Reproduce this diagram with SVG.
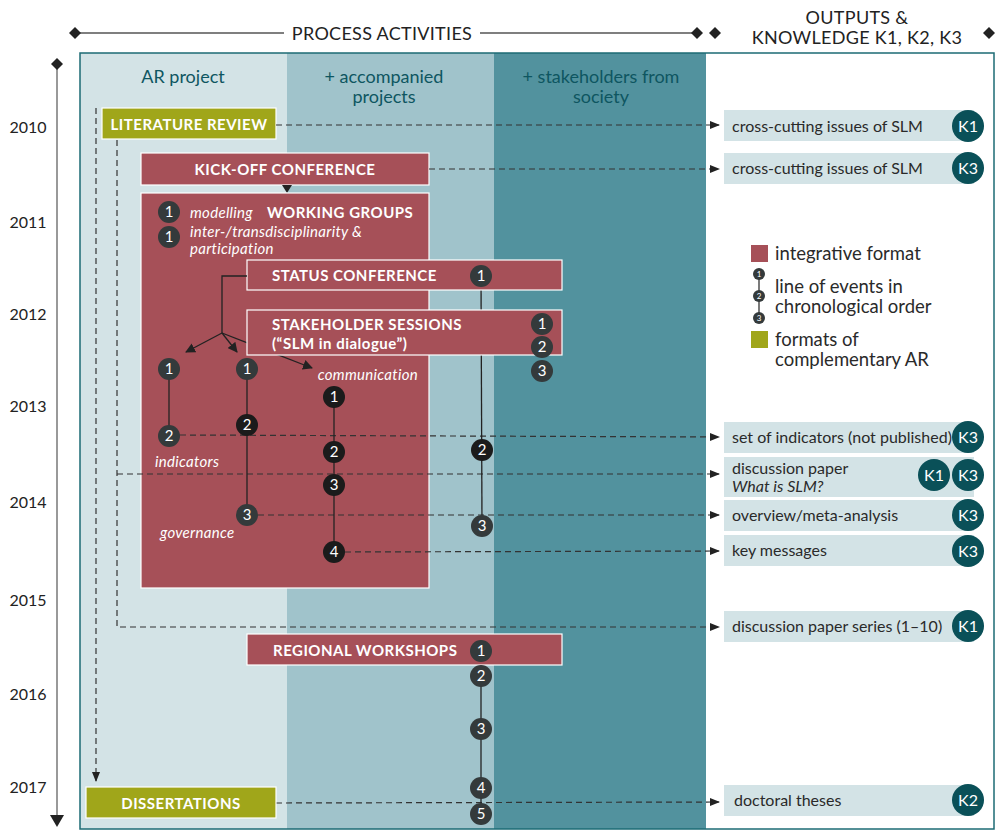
<svg xmlns="http://www.w3.org/2000/svg" width="997" height="832" viewBox="0 0 997 832">
<defs>
<style>
text{font-family:Lato,"Open Sans","DejaVu Sans",sans-serif;}
.hdr{font-size:18px;fill:#222;letter-spacing:0.3px}
.yr{font-size:16px;fill:#222;text-anchor:middle}
.col{font-size:18px;fill:#0e5661;text-anchor:middle}
.ttl{font-size:15px;font-weight:bold;fill:#fff;letter-spacing:0.5px}
.it{font-size:15px;font-style:italic;fill:#fff;letter-spacing:0.3px}
.out{font-size:16px;fill:#2a2a2a}
.leg{font-size:18.5px;fill:#2a2a2a}
.num{font-size:15px;fill:#fff;text-anchor:middle}
.knum{font-size:16px;fill:#fff;text-anchor:middle}
.maroon{fill:#a65058;stroke:#fff;stroke-width:1.2}
.green{fill:#a0a61a;stroke:#fff;stroke-width:1.2}
.obox{fill:#d3e3e6}
.k{fill:#0a5058}
.cg{fill:#343a3b}
.cb{fill:#1b1b1b}
.dash{fill:none;stroke:#333;stroke-width:1.2;stroke-dasharray:6 4}
.solid{fill:none;stroke:#222;stroke-width:1.3}
.rule{fill:none;stroke:#555;stroke-width:1.3}
</style>
<marker id="arr" markerWidth="10" markerHeight="10" refX="9" refY="5" orient="auto" markerUnits="userSpaceOnUse">
<path d="M0,0 L10,5 L0,10 z" fill="#222"/>
</marker>
<marker id="arrs" markerWidth="10" markerHeight="10" refX="9" refY="5" orient="auto" markerUnits="userSpaceOnUse">
<path d="M0,1 L10,5 L0,9 z" fill="#222"/>
</marker>
</defs>
<rect width="997" height="832" fill="#fff"/>

<g id="header">
<line class="rule" x1="75" y1="33" x2="284" y2="33"/>
<line class="rule" x1="480" y1="33" x2="697" y2="33"/>
<path d="M75,27 L81,33 L75,39 L69,33 z" fill="#222"/>
<path d="M697,27 L703,33 L697,39 L691,33 z" fill="#222"/>
<path d="M715,27 L721,33 L715,39 L709,33 z" fill="#222"/>
<path d="M989,27 L995,33 L989,39 L983,33 z" fill="#222"/>
<text class="hdr" x="382" y="40" text-anchor="middle">PROCESS ACTIVITIES</text>
<text class="hdr" x="857" y="24" text-anchor="middle">OUTPUTS &amp;</text>
<text class="hdr" x="857" y="44" text-anchor="middle">KNOWLEDGE K1, K2, K3</text>
</g>

<g id="timeline">
<line x1="57" y1="64" x2="57" y2="815" stroke="#777" stroke-width="1.5"/>
<path d="M57,58 L63,64 L57,70 L51,64 z" fill="#222"/>
<path d="M50,815 L64,815 L57,827 z" fill="#222"/>
<text class="yr" x="28" y="133">2010</text>
<text class="yr" x="28" y="228">2011</text>
<text class="yr" x="28" y="320">2012</text>
<text class="yr" x="28" y="412">2013</text>
<text class="yr" x="28" y="508">2014</text>
<text class="yr" x="28" y="606">2015</text>
<text class="yr" x="28" y="700">2016</text>
<text class="yr" x="28" y="793">2017</text>
</g>

<g id="columns">
<rect x="80" y="53" width="207" height="776" fill="#d3e3e6"/>
<rect x="287" y="53" width="207" height="776" fill="#a0c3cb"/>
<rect x="494" y="53" width="212" height="776" fill="#52929e"/>
<rect x="706" y="53" width="288" height="776" fill="#fff"/>
<rect x="80" y="53" width="914" height="776" fill="none" stroke="#1c6b74" stroke-width="1.5"/>
<text class="col" x="183" y="83">AR project</text>
<text class="col" x="384" y="83">+ accompanied</text>
<text class="col" x="384" y="103">projects</text>
<text class="col" x="601" y="83">+ stakeholders from</text>
<text class="col" x="601" y="103">society</text>
</g>

<g id="literature-review">
<rect class="green" x="102" y="108" width="174" height="31"/>
<text class="ttl" x="189" y="130" text-anchor="middle">LITERATURE REVIEW</text>
</g>

<g id="kick-off-conference">
<rect class="maroon" x="141" y="153" width="288" height="32"/>
<text class="ttl" x="285" y="175" text-anchor="middle">KICK-OFF CONFERENCE</text>
<path d="M282,185 L292,185 L287,193 z" fill="#222"/>
</g>

<g id="working-groups">
<rect class="maroon" x="141" y="193" width="288" height="395"/>
<text class="ttl" x="267" y="218">WORKING GROUPS</text>
<circle class="cg" cx="169" cy="212" r="11"/><text class="num" x="169" y="217">1</text>
<text class="it" x="190" y="218">modelling</text>
<circle class="cg" cx="169" cy="237" r="11"/><text class="num" x="169" y="242">1</text>
<text class="it" x="190" y="237">inter-/transdisciplinarity &amp;</text>
<text class="it" x="190" y="254">participation</text>
<text class="it" x="418" y="380" text-anchor="end">communication</text>
<text class="it" x="155" y="467">indicators</text>
<text class="it" x="160" y="538">governance</text>
</g>

<g id="connectors">
<path class="dash" d="M96,108 V781" marker-end="url(#arrs)"/>
<path class="dash" d="M117,140 V627 H719" marker-end="url(#arrs)"/>
<path class="dash" d="M117,474 H719" marker-end="url(#arrs)"/>
<path class="dash" d="M276,125 H719" marker-end="url(#arrs)"/>
<path class="dash" d="M429,169 H719" marker-end="url(#arrs)"/>
<path class="dash" d="M180,435 L719,437" marker-end="url(#arrs)"/>
<path class="dash" d="M258,515 H719" marker-end="url(#arrs)"/>
<path class="dash" d="M345,552 L719,551" marker-end="url(#arrs)"/>
<path class="dash" d="M276,803 L719,802" marker-end="url(#arrs)"/>
<line class="solid" x1="169" y1="369" x2="169" y2="436"/>
<line class="solid" x1="247" y1="369" x2="247" y2="515"/>
<line class="solid" x1="334" y1="397" x2="334" y2="552"/>
<line class="solid" x1="481" y1="276" x2="482" y2="526" stroke="#333"/>
<line class="solid" x1="481" y1="651" x2="481" y2="814" stroke="#333"/>
</g>

<g id="working-group-events">
<circle class="cg" cx="169" cy="369" r="11"/><text class="num" x="169" y="374">1</text>
<circle class="cg" cx="169" cy="436" r="11"/><text class="num" x="169" y="441">2</text>
<circle class="cg" cx="247" cy="369" r="11"/><text class="num" x="247" y="374">1</text>
<circle class="cb" cx="247" cy="425" r="11"/><text class="num" x="247" y="430">2</text>
<circle class="cg" cx="247" cy="515" r="11"/><text class="num" x="247" y="520">3</text>
<circle class="cb" cx="334" cy="397" r="11"/><text class="num" x="334" y="402">1</text>
<circle class="cb" cx="334" cy="452" r="11"/><text class="num" x="334" y="457">2</text>
<circle class="cb" cx="334" cy="485" r="11"/><text class="num" x="334" y="490">3</text>
<circle class="cb" cx="334" cy="552" r="11"/><text class="num" x="334" y="557">4</text>
</g>

<g id="status-conference">
<rect class="maroon" x="247" y="260" width="315" height="30"/>
<text class="ttl" x="272" y="281">STATUS CONFERENCE</text>
<circle class="cg" cx="481" cy="276" r="11"/><text class="num" x="481" y="281">1</text>
<path class="solid" d="M247,276 H222 V333"/>
<path class="solid" d="M222,333 L186,352" marker-end="url(#arr)"/>
<path class="solid" d="M222,333 L237,352" marker-end="url(#arr)"/>
<path class="solid" d="M222,333 L312,368" marker-end="url(#arr)"/>
<circle class="cb" cx="482" cy="450" r="11"/><text class="num" x="482" y="455">2</text>
<circle class="cg" cx="482" cy="526" r="11"/><text class="num" x="482" y="531">3</text>
</g>

<g id="stakeholder-sessions">
<rect class="maroon" x="247" y="310" width="315" height="45"/>
<text class="ttl" x="272" y="330">STAKEHOLDER SESSIONS</text>
<text class="ttl" x="272" y="349">(“SLM in dialogue”)</text>
<circle class="cg" cx="542" cy="324" r="11"/><text class="num" x="542" y="329">1</text>
<circle class="cg" cx="542" cy="347" r="11"/><text class="num" x="542" y="352">2</text>
<circle class="cg" cx="542" cy="371" r="11"/><text class="num" x="542" y="376">3</text>
</g>

<g id="regional-workshops">
<rect class="maroon" x="247" y="634" width="315" height="31"/>
<text class="ttl" x="273" y="656">REGIONAL WORKSHOPS</text>
<circle class="cg" cx="481" cy="651" r="11"/><text class="num" x="481" y="656">1</text>
<circle class="cg" cx="481" cy="676" r="11"/><text class="num" x="481" y="681">2</text>
<circle class="cg" cx="481" cy="729" r="11"/><text class="num" x="481" y="734">3</text>
<circle class="cg" cx="481" cy="788" r="11"/><text class="num" x="481" y="793">4</text>
<circle class="cg" cx="481" cy="814" r="11"/><text class="num" x="481" y="819">5</text>
</g>

<g id="dissertations">
<rect class="green" x="86" y="787" width="190" height="31"/>
<text class="ttl" x="181" y="809" text-anchor="middle">DISSERTATIONS</text>
</g>

<g id="legend">
<rect x="751" y="245" width="17" height="17" fill="#a65058"/>
<text class="leg" x="775" y="260">integrative format</text>
<line x1="759" y1="274" x2="759" y2="318" stroke="#222" stroke-width="1.2"/>
<circle class="cg" cx="759" cy="274" r="6"/><text x="759" y="277" font-size="8" fill="#fff" text-anchor="middle">1</text>
<circle class="cg" cx="759" cy="296" r="6"/><text x="759" y="299" font-size="8" fill="#fff" text-anchor="middle">2</text>
<circle class="cg" cx="759" cy="318" r="6"/><text x="759" y="321" font-size="8" fill="#fff" text-anchor="middle">3</text>
<text class="leg" x="775" y="293">line of events in</text>
<text class="leg" x="775" y="313">chronological order</text>
<rect x="751" y="331" width="17" height="17" fill="#a0a61a"/>
<text class="leg" x="775" y="346">formats of</text>
<text class="leg" x="775" y="366">complementary AR</text>
</g>

<g id="output-1">
<rect class="obox" x="724" y="110" width="250" height="31"/>
<text class="out" x="732" y="132">cross-cutting issues of SLM</text>
<circle class="k" cx="968" cy="126" r="16"/><text class="knum" x="968" y="132">K1</text>
</g>
<g id="output-2">
<rect class="obox" x="724" y="153" width="250" height="31"/>
<text class="out" x="732" y="174">cross-cutting issues of SLM</text>
<circle class="k" cx="968" cy="168" r="16"/><text class="knum" x="968" y="174">K3</text>
</g>
<g id="output-3">
<rect class="obox" x="724" y="422" width="250" height="31"/>
<text class="out" x="732" y="443">set of indicators (not published)</text>
<circle class="k" cx="968" cy="437" r="16"/><text class="knum" x="968" y="443">K3</text>
</g>
<g id="output-4">
<rect class="obox" x="724" y="457" width="250" height="40"/>
<text class="out" x="732" y="474">discussion paper</text>
<text class="out" x="732" y="492" font-style="italic">What is SLM?</text>
<circle class="k" cx="934" cy="475" r="16"/><text class="knum" x="934" y="481">K1</text>
<circle class="k" cx="968" cy="475" r="16"/><text class="knum" x="968" y="481">K3</text>
</g>
<g id="output-5">
<rect class="obox" x="724" y="500" width="250" height="31"/>
<text class="out" x="732" y="521">overview/meta-analysis</text>
<circle class="k" cx="968" cy="515" r="16"/><text class="knum" x="968" y="521">K3</text>
</g>
<g id="output-6">
<rect class="obox" x="724" y="535" width="250" height="31"/>
<text class="out" x="732" y="556">key messages</text>
<circle class="k" cx="968" cy="551" r="16"/><text class="knum" x="968" y="557">K3</text>
</g>
<g id="output-7">
<rect class="obox" x="724" y="611" width="250" height="31"/>
<text class="out" x="732" y="632">discussion paper series (1–10)</text>
<circle class="k" cx="968" cy="626" r="16"/><text class="knum" x="968" y="632">K1</text>
</g>
<g id="output-8">
<rect class="obox" x="724" y="785" width="250" height="31"/>
<text class="out" x="734" y="806">doctoral theses</text>
<circle class="k" cx="968" cy="800" r="16"/><text class="knum" x="968" y="806">K2</text>
</g>
</svg>
